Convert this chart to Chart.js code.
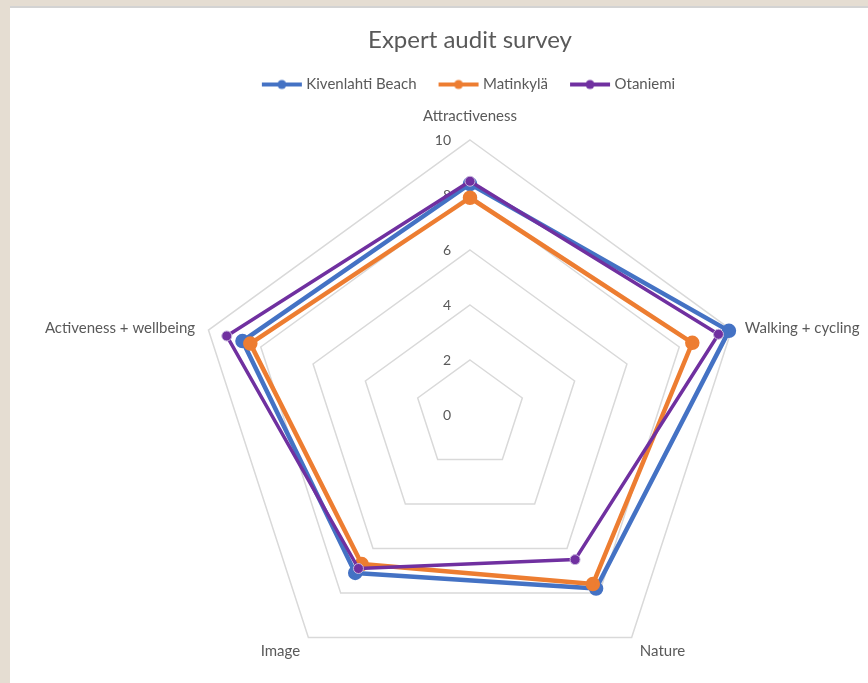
<!DOCTYPE html>
<html>
<head>
<meta charset="utf-8">
<script src="https://cdn.jsdelivr.net/npm/chart.js@4.4.0/dist/chart.umd.min.js"></script>
<style>
html, body { margin: 0; padding: 0; width: 868px; height: 683px; overflow: hidden; background: #e5ddd2; }
#sheet { position: absolute; left: 10px; top: 6px; right: 0; bottom: 0; background: #fff; border-top: 2px solid #d3d3d3; }
#chart { position: absolute; left: 0; top: 0; }
</style>
</head>
<body>
<div id="sheet"></div>
<canvas id="chart" width="940" height="730"></canvas>
<script>
var categories = ['Attractiveness', 'Walking + cycling', 'Nature', 'Image', 'Activeness + wellbeing'];
var kivenlahti = [8.4, 9.9, 7.8, 7.1, 8.7];
var matinkyla = [7.9, 8.5, 7.6, 6.7, 8.4];
var otaniemi = [8.5, 9.5, 6.5, 6.9, 9.3];
var tickValues = [0, 2, 4, 6, 8, 10];

var textColor = '#595959';
var fontFamily = 'Lato';

// line + dot legend marker, like Excel
function legendIcon(color) {
  var c = document.createElement('canvas');
  c.width = 42;
  c.height = 12;
  var g = c.getContext('2d');
  g.strokeStyle = color;
  g.lineWidth = 4;
  g.beginPath();
  g.moveTo(1, 6);
  g.lineTo(41, 6);
  g.stroke();
  g.fillStyle = color;
  g.beginPath();
  g.arc(21, 6, 4.5, 0, Math.PI * 2);
  g.fill();
  return c;
}

var colors = ['#4472c4', '#ed7d31', '#7030a0'];
var icons = colors.map(legendIcon);

// tick numbers sit left of the vertical axis
var tickLabels = {
  id: 'tickLabels',
  beforeDatasetsDraw: function(chart) {
    var s = chart.scales.r;
    var ctx = chart.ctx;
    ctx.save();
    ctx.font = '14px ' + fontFamily;
    ctx.fillStyle = textColor;
    ctx.textAlign = 'right';
    ctx.textBaseline = 'middle';
    tickValues.forEach(function(v) {
      ctx.fillText(String(v), s.xCenter - 19, s.yCenter - s.getDistanceFromCenterForValue(v));
    });
    ctx.restore();
  }
};

var pointLabels = {
  id: 'pointLabels',
  afterDraw: function(chart) {
    var s = chart.scales.r;
    var ctx = chart.ctx;
    ctx.save();
    ctx.font = '15px ' + fontFamily;
    ctx.fillStyle = textColor;
    ctx.textBaseline = 'middle';
    categories.forEach(function(label, i) {
      var a = s.getIndexAngle(i);
      var sin = Math.sin(a);
      var top = Math.abs(sin) < 0.1;
      var p = s.getPointPosition(i, s.drawingArea + (top ? 24 : 14));
      ctx.textAlign = top ? 'center' : (sin > 0 ? 'left' : 'right');
      ctx.fillText(label, p.x, p.y + (top ? 0 : 2));
    });
    ctx.restore();
  }
};

var ctx = document.getElementById('chart').getContext('2d');
var chart = new Chart(ctx, {
  type: 'radar',
  data: {
    labels: categories,
    datasets: [{
      label: 'Kivenlahti Beach',
      data: kivenlahti,
      borderColor: colors[0],
      backgroundColor: colors[0],
      pointBackgroundColor: colors[0],
      pointBorderColor: colors[0],
      borderWidth: 4.5,
      pointRadius: 5,
      order: 3
    }, {
      label: 'Matinkylä',
      data: matinkyla,
      borderColor: colors[1],
      backgroundColor: colors[1],
      pointBackgroundColor: colors[1],
      pointBorderColor: colors[1],
      borderWidth: 4.5,
      pointRadius: 5,
      order: 2
    }, {
      label: 'Otaniemi',
      data: otaniemi,
      borderColor: colors[2],
      backgroundColor: colors[2],
      pointBackgroundColor: colors[2],
      pointBorderColor: '#c7b6dc',
      pointBorderWidth: 1,
      borderWidth: 3.5,
      pointRadius: 5,
      order: 1
    }]
  },
  options: {
    responsive: false,
    animation: false,
    layout: { padding: { left: 195, right: 195, top: 0, bottom: 2 } },
    elements: { line: { fill: false, tension: 0, borderJoinStyle: 'round' } },
    scales: {
      r: {
        min: 0,
        max: 10,
        ticks: { display: false, stepSize: 2 },
        grid: { color: '#d9d9d9', lineWidth: 1.5 },
        angleLines: { display: false },
        pointLabels: { display: false }
      }
    },
    plugins: {
      title: {
        display: true,
        text: 'Expert audit survey',
        color: textColor,
        font: { family: fontFamily, size: 24, weight: 'normal', lineHeight: 1 },
        padding: { top: 28, bottom: 0 }
      },
      legend: {
        labels: {
          usePointStyle: true,
          pointStyleWidth: 34,
          padding: 25,
          color: textColor,
          font: { family: fontFamily, size: 15 },
          generateLabels: function(chart) {
            var items = Chart.defaults.plugins.legend.labels.generateLabels(chart);
            items.sort(function(a, b) { return a.datasetIndex - b.datasetIndex; });
            items.forEach(function(it) { it.pointStyle = icons[it.datasetIndex]; });
            return items;
          }
        }
      },
      tooltip: { enabled: false }
    }
  },
  plugins: [tickLabels, pointLabels]
});
</script>
</body>
</html>
